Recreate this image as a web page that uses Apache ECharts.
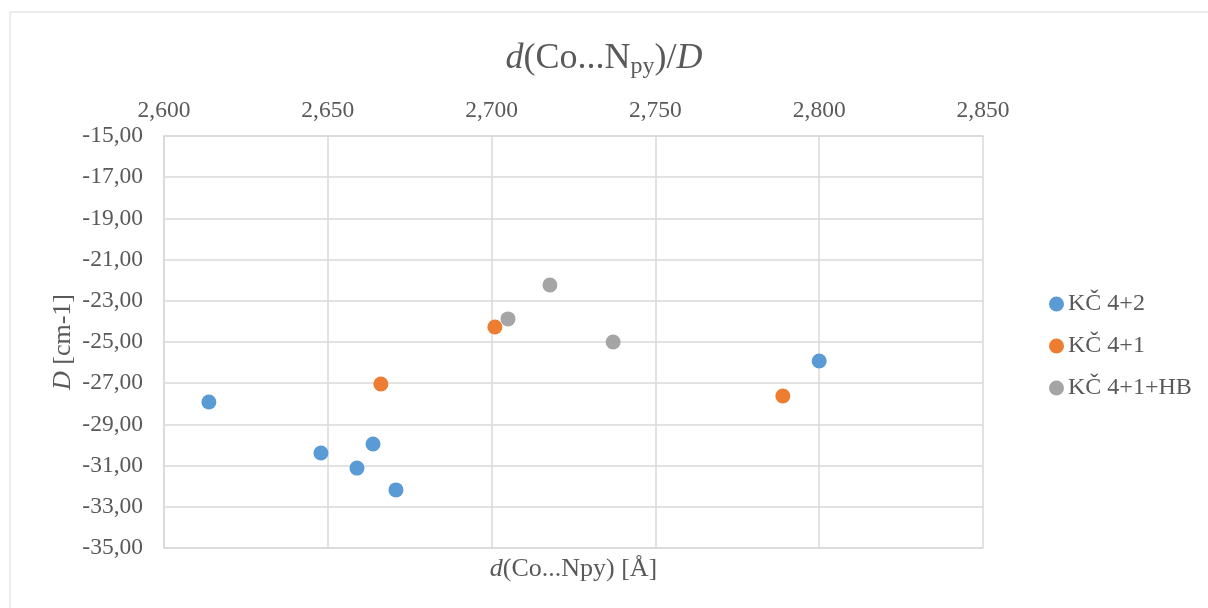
<!DOCTYPE html>
<html>
<head>
<meta charset="utf-8">
<script src="https://cdn.jsdelivr.net/npm/echarts@6/dist/echarts.min.js"></script>
<style>html,body{margin:0;padding:0;background:#fff;}#c{width:1208px;height:608px;}</style>
</head>
<body>
<div id="c"></div>
<script>
// Data
const seriesNames = ['KČ 4+2', 'KČ 4+1', 'KČ 4+1+HB'];
const kc42 = [[2.6137, -27.91], [2.6479, -30.39], [2.6589, -31.12], [2.6638, -29.95], [2.6708, -32.18], [2.8000, -25.92]];
const kc41 = [[2.6662, -27.04], [2.7010, -24.27], [2.7889, -27.62]];
const kc41hb = [[2.7050, -23.88], [2.7178, -22.23], [2.7371, -25.00]];
const xTicks = { min: 2.6, max: 2.85, step: 0.05 };
const yTicks = { min: -35, max: -15, step: 2 };

const FONT = '"Liberation Serif", "Times New Roman", serif';
const TXT = '#595959';
const GRID = '#d9d9d9';
const colors = ['#5B9BD5', '#ED7D31', '#A5A5A5'];

const chart = echarts.init(document.getElementById('c'), null, { renderer: 'canvas' });
const commaFmt = d => v => v.toFixed(d).replace('.', ',');

chart.setOption({
  backgroundColor: '#fff',
  animation: false,
  color: colors,
  graphic: [{
    type: 'rect', shape: { x: 10, y: 12, width: 1400, height: 800 },
    style: { fill: 'none', stroke: GRID, lineWidth: 1 }, silent: true, z: -10
  }],
  title: {
    text: '{i|d}{n|(Co...N}{s|py}{n|)/}{i|D}',
    left: 'center', top: 34,
    textStyle: {
      fontWeight: 'normal',
      rich: {
        i: { fontFamily: FONT, fontSize: 36, fontStyle: 'italic', fontWeight: 'normal', color: TXT },
        n: { fontFamily: FONT, fontSize: 36, fontWeight: 'normal', color: TXT },
        s: { fontFamily: FONT, fontSize: 24, fontWeight: 'normal', color: TXT, verticalAlign: 'bottom', padding: [16, 0, 0, 0] }
      }
    }
  },
  legend: {
    orient: 'vertical', left: 1044, top: 287,
    itemWidth: 15, itemHeight: 15, itemGap: 18,
    icon: 'circle',
    data: seriesNames,
    textStyle: { fontFamily: FONT, fontSize: 24, color: TXT, padding: [0, 0, 0, -1] }
  },
  grid: { left: 164, right: 225, top: 136, bottom: 60, containLabel: false },
  xAxis: [{
    type: 'value', position: 'top',
    min: xTicks.min, max: xTicks.max, interval: xTicks.step,
    axisLine: { show: true, lineStyle: { color: GRID, width: 1.5 } },
    axisTick: { show: false },
    axisLabel: { fontFamily: FONT, fontSize: 23.5, color: TXT, margin: 13, formatter: commaFmt(3) },
    splitLine: { show: true, lineStyle: { color: GRID, width: 1.5 } }
  }, {
    type: 'value', position: 'bottom',
    min: xTicks.min, max: xTicks.max, interval: xTicks.step,
    axisLine: { show: true, lineStyle: { color: GRID, width: 1.5 } },
    axisTick: { show: false }, axisLabel: { show: false }, splitLine: { show: false },
    name: '{i|d}{n|(Co...Npy) [Å]}', nameLocation: 'middle', nameGap: 8, nameMoveOverlap: false,
    nameTextStyle: {
      rich: {
        i: { fontFamily: FONT, fontSize: 26, fontStyle: 'italic', color: TXT },
        n: { fontFamily: FONT, fontSize: 26, color: TXT }
      }
    }
  }],
  yAxis: {
    type: 'value',
    min: yTicks.min, max: yTicks.max, interval: yTicks.step,
    axisLine: { show: true, lineStyle: { color: GRID, width: 1.5 } },
    axisTick: { show: false },
    axisLabel: { fontFamily: FONT, fontSize: 23.5, color: TXT, margin: 21, formatter: commaFmt(2) },
    splitLine: { show: true, lineStyle: { color: GRID, width: 1.5 } },
    name: '{i|D}{n| [cm-1]}', nameLocation: 'middle', nameGap: 88, nameRotate: 90, nameMoveOverlap: false,
    nameTextStyle: {
      rich: {
        i: { fontFamily: FONT, fontSize: 26, fontStyle: 'italic', color: TXT },
        n: { fontFamily: FONT, fontSize: 26, color: TXT }
      }
    }
  },
  series: [
    { name: seriesNames[0], type: 'scatter', data: kc42, symbolSize: 15, itemStyle: { opacity: 1 } },
    { name: seriesNames[1], type: 'scatter', data: kc41, symbolSize: 15, itemStyle: { opacity: 1 } },
    { name: seriesNames[2], type: 'scatter', data: kc41hb, symbolSize: 15, itemStyle: { opacity: 1 } }
  ]
});
</script>
</body>
</html>
